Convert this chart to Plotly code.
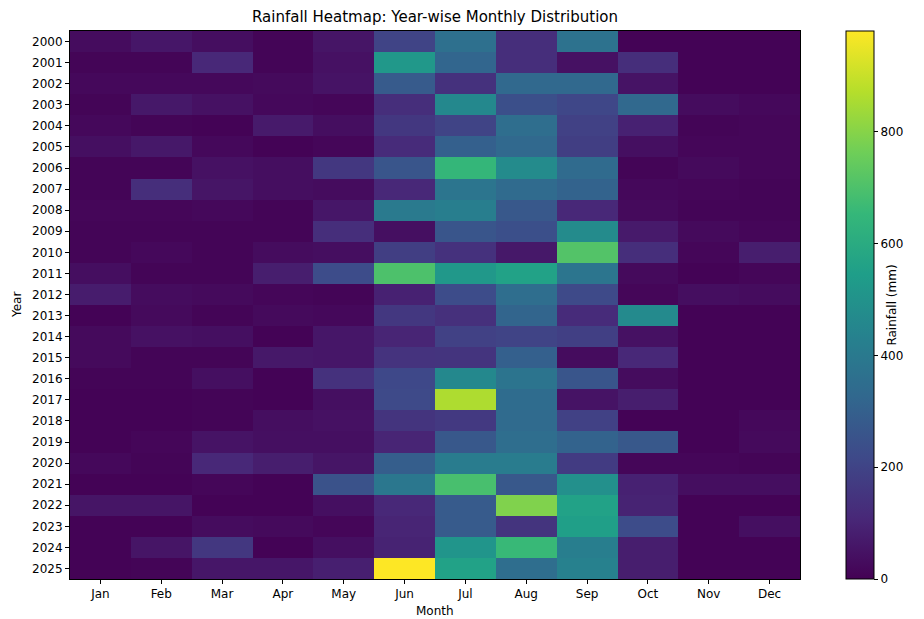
import plotly.graph_objects as go

months = ["Jan", "Feb", "Mar", "Apr", "May", "Jun", "Jul", "Aug", "Sep", "Oct", "Nov", "Dec"]
years = [str(y) for y in range(2000, 2026)]

# rainfall (mm), one row per year, Jan..Dec
r2000 = [30, 60, 35, 10, 55, 200, 360, 130, 370, 5, 5, 5]
r2001 = [10, 10, 110, 10, 45, 520, 320, 130, 45, 130, 5, 5]
r2002 = [20, 20, 20, 25, 50, 280, 140, 330, 330, 50, 5, 5]
r2003 = [10, 65, 45, 20, 15, 130, 460, 240, 210, 330, 30, 20]
r2004 = [20, 10, 5, 70, 35, 160, 200, 350, 190, 90, 10, 15]
r2005 = [40, 65, 20, 5, 15, 120, 300, 330, 180, 40, 15, 15]
r2006 = [10, 10, 45, 35, 160, 260, 650, 470, 340, 10, 25, 15]
r2007 = [10, 130, 55, 35, 30, 110, 380, 340, 310, 20, 15, 10]
r2008 = [15, 15, 20, 10, 60, 400, 420, 270, 110, 25, 10, 10]
r2009 = [10, 10, 10, 10, 130, 40, 260, 240, 470, 70, 25, 15]
r2010 = [10, 20, 10, 30, 35, 180, 140, 65, 710, 130, 15, 80]
r2011 = [35, 10, 10, 80, 230, 700, 520, 560, 380, 25, 5, 15]
r2012 = [75, 30, 25, 15, 10, 90, 230, 350, 220, 15, 35, 30]
r2013 = [5, 25, 10, 25, 20, 160, 135, 315, 120, 465, 5, 5]
r2014 = [25, 45, 40, 5, 60, 100, 190, 200, 185, 45, 5, 5]
r2015 = [25, 10, 10, 65, 60, 145, 150, 300, 30, 110, 5, 5]
r2016 = [10, 10, 40, 5, 140, 215, 460, 375, 260, 30, 5, 5]
r2017 = [5, 5, 10, 5, 40, 220, 860, 345, 50, 80, 5, 5]
r2018 = [5, 5, 10, 35, 45, 150, 165, 340, 190, 5, 5, 20]
r2019 = [5, 15, 50, 40, 40, 100, 270, 350, 310, 270, 5, 25]
r2020 = [20, 10, 110, 80, 55, 290, 410, 410, 170, 15, 15, 10]
r2021 = [5, 5, 15, 5, 250, 390, 690, 270, 490, 90, 35, 35]
r2022 = [55, 55, 5, 5, 40, 110, 280, 790, 560, 95, 5, 5]
r2023 = [5, 5, 30, 25, 15, 100, 280, 150, 550, 230, 5, 40]
r2024 = [5, 55, 160, 5, 40, 95, 510, 660, 420, 80, 5, 5]
r2025 = [5, 10, 60, 60, 85, 980, 560, 350, 430, 80, 5, 5]

rainfall = [r2000, r2001, r2002, r2003, r2004, r2005, r2006, r2007, r2008, r2009,
            r2010, r2011, r2012, r2013, r2014, r2015, r2016, r2017, r2018, r2019,
            r2020, r2021, r2022, r2023, r2024, r2025]

cbar_ticks = [0, 200, 400, 600, 800]
z_min, z_max = 0, 980

FONT = "DejaVu Sans"
W, H = 924, 619
L, R, T, B = 70, 800, 31, 579

fig = go.Figure(go.Heatmap(
    z=rainfall, x=months, y=years,
    colorscale="Viridis", zmin=z_min, zmax=z_max,
    colorbar=dict(
        title=dict(text="Rainfall (mm)", side="right", font=dict(size=12, family=FONT, color="black")),
        thickness=28, thicknessmode="pixels",
        len=B - T, lenmode="pixels",
        x=(846 - L) / (R - L), xanchor="left", xpad=0,
        y=1, yanchor="top", ypad=0,
        outlinewidth=1, outlinecolor="black",
        tickmode="array", tickvals=cbar_ticks, ticktext=[str(v) for v in cbar_ticks],
        ticks="outside", ticklen=4, tickcolor="black",
        tickfont=dict(size=12, family=FONT, color="black"),
    ),
))

fig.update_layout(
    width=W, height=H,
    margin=dict(l=L, r=W - R, t=T, b=H - B, autoexpand=False),
    paper_bgcolor="white", plot_bgcolor="white",
    font=dict(family=FONT, size=12, color="black"),
    title=dict(text="Rainfall Heatmap: Year-wise Monthly Distribution",
               x=435 / W, xanchor="center", y=1 - 17 / H, yanchor="middle",
               font=dict(size=15, family=FONT, color="black")),
    annotations=[
        dict(text="Month", xref="paper", yref="paper", x=0.5, y=-(611 - B) / (B - T),
             xanchor="center", yanchor="middle", showarrow=False, font=dict(size=12)),
        dict(text="Year", xref="paper", yref="paper", x=-(L - 17) / (R - L), y=0.5,
             xanchor="center", yanchor="middle", textangle=-90, showarrow=False,
             font=dict(size=12)),
    ],
)
fig.update_xaxes(automargin=False,
                 showline=True, linecolor="black", linewidth=1, mirror=True,
                 ticks="outside", ticklen=4, tickcolor="black",
                 tickfont=dict(size=12))
fig.update_yaxes(automargin=False, autorange="reversed",
                 showline=True, linecolor="black", linewidth=1, mirror=True,
                 ticks="outside", ticklen=4, tickcolor="black",
                 tickfont=dict(size=12))

fig.write_html("out.html")
